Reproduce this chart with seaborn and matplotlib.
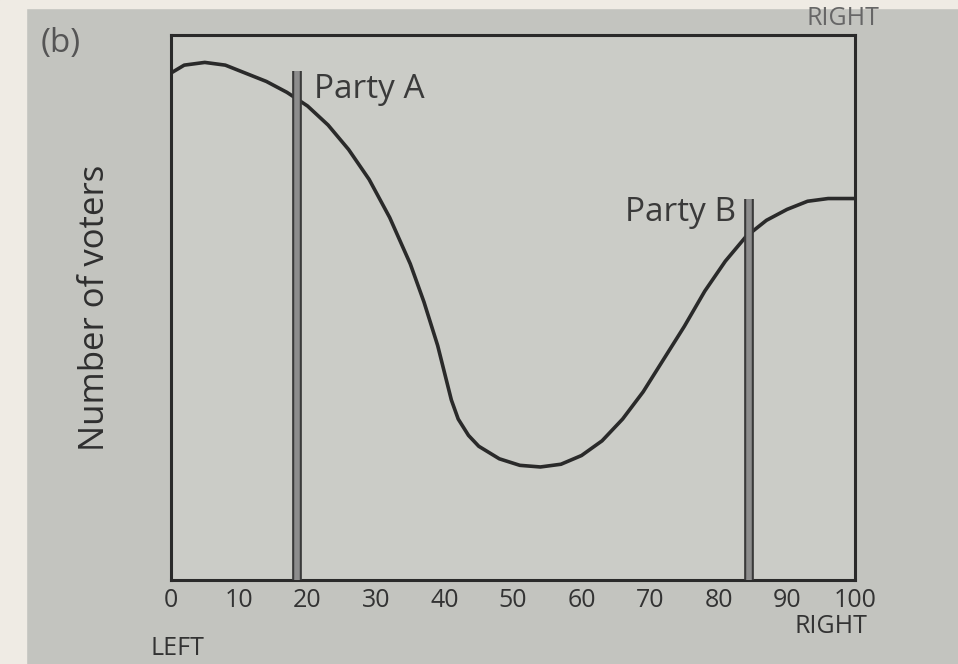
import matplotlib
matplotlib.use("Agg")
import matplotlib.pyplot as plt
import seaborn as sns
import pandas as pd

# Data (position on left-right scale, relative number of voters)
position = [0, 2, 5, 8, 11, 14, 17, 20, 23, 26, 29, 32, 35, 37, 39, 40, 41, 42, 43.5, 45, 48, 51, 54, 57, 60,
            63, 66, 69, 72, 75, 78, 81, 84, 87, 90, 93, 96, 100]
voters = [0.93, 0.945, 0.95, 0.945, 0.93, 0.915, 0.895, 0.87, 0.835, 0.79, 0.735, 0.665, 0.58, 0.51, 0.43,
          0.38, 0.33, 0.295, 0.265, 0.245, 0.222, 0.21, 0.207, 0.212, 0.228,
          0.255, 0.295, 0.345, 0.405, 0.465, 0.53, 0.585, 0.63, 0.66, 0.68, 0.695, 0.70, 0.70]
party_names = ["Party A", "Party B"]
party_pos = [18.5, 84.5]
party_top = [0.935, 0.70]
xticks = [0, 10, 20, 30, 40, 50, 60, 70, 80, 90, 100]

sns.set_theme(style="white")
plt.rcParams['font.family'] = ['Open Sans', 'DejaVu Sans']

fig = plt.figure(figsize=(9.58, 6.64), dpi=100, facecolor="#c3c4bf")
# beige page strip at left/top (photo background)
fig.patches.append(plt.Rectangle((0, 0), 0.027, 1, transform=fig.transFigure, color="#efebe4", zorder=0))
fig.patches.append(plt.Rectangle((0, 0.988), 1, 0.012, transform=fig.transFigure, color="#efebe4", zorder=0))

ax = fig.add_axes([0.178, 0.127, 0.715, 0.82])
ax.set_facecolor("#cbccc7")

df = pd.DataFrame({"position": position, "voters": voters})
sns.lineplot(data=df, x="position", y="voters", ax=ax, color="#2a2a2a", linewidth=2.6)

for name, p, top in zip(party_names, party_pos, party_top):
    ax.plot([p, p], [0, top], color="#3a3a3a", linewidth=7, solid_capstyle="butt", zorder=3)
    ax.plot([p, p], [0, top], color="#8d8d8d", linewidth=4, solid_capstyle="butt", zorder=4)

ax.text(party_pos[0] + 2.5, 0.93, party_names[0], fontsize=24, color="#3a3a3a", va="top", ha="left")
ax.text(party_pos[1] - 2.0, 0.705, party_names[1], fontsize=24, color="#3a3a3a", va="top", ha="right")

ax.set_xlim(0, 100)
ax.set_ylim(0, 1)
ax.set_xticks(xticks)
ax.set_xticklabels([str(t) for t in xticks], fontsize=18, color="#333333")
ax.set_yticks([])
ax.tick_params(axis="x", length=0, pad=6)
ax.set_xlabel("")
ax.set_ylabel("Number of voters", fontsize=25, color="#2f2f2f", labelpad=42)
for s in ax.spines.values():
    s.set_color("#2a2a2a")
    s.set_linewidth(2.2)

fig.text(0.042, 0.935, "(b)", fontsize=24, color="#555555", ha="left", va="center")
fig.text(0.905, 0.056, "RIGHT", fontsize=18, color="#333333", ha="right", va="center")
fig.text(0.185, 0.024, "LEFT", fontsize=18, color="#333333", ha="center", va="center")
fig.text(0.88, 0.972, "RIGHT", fontsize=18, color="#666666", ha="center", va="center")

fig.savefig("out.png", dpi=100, facecolor=fig.get_facecolor())
